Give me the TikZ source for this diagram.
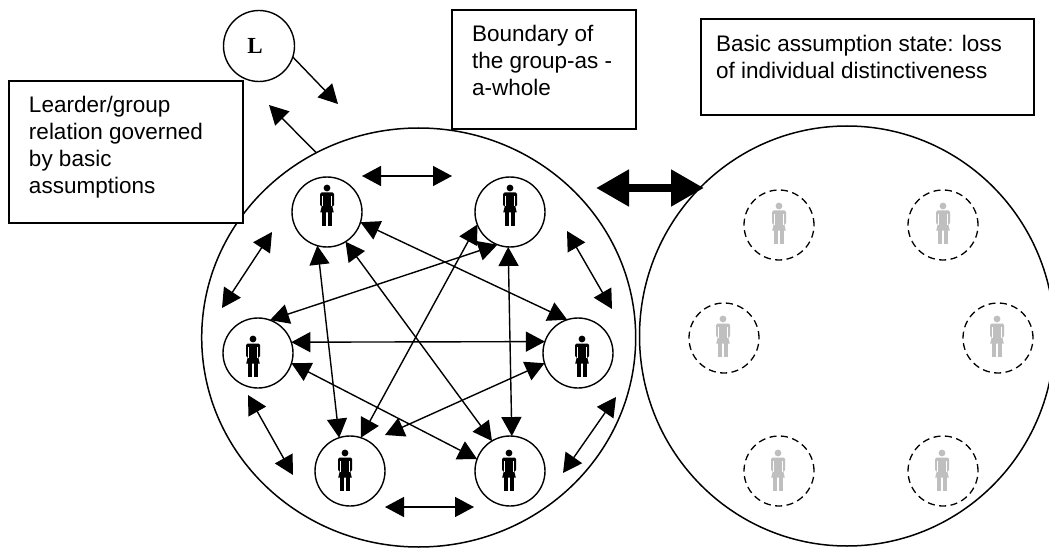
\documentclass[tikz,border=0pt]{standalone}
\usepackage{fontspec}
\setmainfont{Liberation Sans}
\newfontfamily\serifL{Liberation Serif}
\usetikzlibrary{arrows.meta,shapes.geometric}
\tikzset{
  bigring/.style={ellipse,draw,line width=1.5pt,inner sep=0pt,outer sep=0pt,minimum width=#1},
  member/.style={circle,draw,line width=1.4pt,minimum size=70pt,inner sep=0pt,outer sep=0pt},
  faded/.style={circle,draw,line width=1.3pt,dash pattern=on 7pt off 4.5pt,minimum size=70pt,inner sep=0pt,outer sep=0pt},
  notebox/.style={draw,fill=white,line width=1.4pt,inner sep=0pt,outer sep=0pt,anchor=north west,font=\fontsize{22.5}{27}\selectfont},
  link/.style={line width=1.4pt,{Triangle[length=19pt,width=20pt]}-{Triangle[length=19pt,width=20pt]}},
  oneway/.style={line width=1.4pt,-{Triangle[length=19pt,width=20pt]}},
  thicklink/.style={line width=8pt,{Triangle[length=33pt,width=35pt]}-{Triangle[length=33pt,width=35pt]}},
  pics/woman/.style={code={
    \fill[#1] (0,-19) circle (3.4);
    \fill[#1,rounded corners=1.5pt] (-7,-14.5) -- (7,-14.5) -- (7,-0.5) -- (-7,-0.5) -- cycle;
    \fill[#1] (-4.6,-3) -- (4.6,-3) -- (6.8,5.5) -- (-6.8,5.5) -- cycle;
    \fill[#1] (-4.6,5) rectangle (-0.7,19);
    \fill[#1] (0.7,5) rectangle (4.6,19);
    \draw[white,line width=.5pt] (-4.4,-11) -- (-4.4,-0.5) (4.4,-11) -- (4.4,-0.5);
  }}
}
\newcommand{\notetext}[4]{\begin{minipage}[c][#2pt][t]{#1pt}\leftskip=#3pt\rightskip=0pt plus 1fil\parindent=0pt\vspace*{0pt}#4\end{minipage}}
\begin{document}
\begin{tikzpicture}[x=1pt,y=-1pt]
\clip (0,0) rectangle (1049,548);
\fill[white] (0,0) rectangle (1049,548);
% group rings
\node[bigring=434pt,minimum height=419pt] (groupA) at (418.7,337.5) {};
\node[bigring=415pt,minimum height=420pt] (groupB) at (847,336) {};
% members
\node[member] (p1) at (327,212) {};
\node[member] (p2) at (510,212) {};
\node[member] (p3) at (258,353) {};
\node[member] (p4) at (578,353) {};
\node[member] (p5) at (350,471) {};
\node[member] (p6) at (510,471) {};
\pic at ([shift={(0,-5)}]p1) {woman=black};
\pic at ([shift={(0,-5)}]p2) {woman=black};
\pic at ([shift={(-5,5)}]p3) {woman=black};
\pic at ([shift={(4,5)}]p4) {woman=black};
\pic at ([shift={(-5,1)}]p5) {woman=black};
\pic at ([shift={(-1,1)}]p6) {woman=black};
% faded members
\node[faded] (q1) at (779,225) {};
\node[faded] (q2) at (943,225) {};
\node[faded] (q3) at (724,338) {};
\node[faded] (q4) at (998,338) {};
\node[faded] (q5) at (779,471) {};
\node[faded] (q6) at (943,471) {};
\foreach \q/\dx/\dy in {q1/0/0,q2/0/0,q3/-1/0,q4/-1/0,q5/-1/1,q6/-1/1}
  \pic at ([shift={(\dx,\dy)}]\q) {woman={black!25}};
% leader
\node[circle,draw,line width=1.4pt,minimum size=71pt,inner sep=0pt,outer sep=0pt,font=\serifL\bfseries\fontsize{23}{23}\selectfont] (L) at (259,46) {\hspace*{-8pt}L};
% free ends
\coordinate (lIn) at (338,104);
\coordinate (lOut) at (269,105);
\coordinate (iEnd) at (385,435);
\coordinate (t1) at (362,176); \coordinate (t2) at (452,176);
\coordinate (k1) at (272,232); \coordinate (k2) at (222,308);
\coordinate (l1) at (567,231); \coordinate (l2) at (612,309);
\coordinate (m1) at (248,395); \coordinate (m2) at (293,475);
\coordinate (n1) at (616,397); \coordinate (n2) at (563,473);
\coordinate (o1) at (385,507); \coordinate (o2) at (474,507);
\coordinate (b1) at (596,188); \coordinate (b2) at (704,188);
% inner links
\draw[link] (p1.-106) -- (p5.108);
\draw[link] (p1.-58) -- (p6.121);
\draw[link] (p1.-17) -- (p4.108);
\draw[link] (p2.-111) -- (p3.70);
\draw[link] (p2.-159) -- (p5.72);
\draw[link] (p2.-93) -- (p6.87);
\draw[link] (p3.18) -- (p4.161);
\draw[link] (p3.-17) -- (p6.160);
\draw[link] (p4.197) -- (iEnd);
% outer links
\draw[link] (t1) -- (t2);
\draw[link] (k1) -- (k2);
\draw[link] (l1) -- (l2);
\draw[link] (m1) -- (m2);
\draw[link] (n1) -- (n2);
\draw[link] (o1) -- (o2);
\draw[thicklink] (b1) -- (b2);
% leader links
\draw[oneway] (L.-18) -- (lIn);
\draw[oneway] (groupA.119) -- (lOut);
% notes
\node[notebox] (note1) at (9,81) {\notetext{234}{142}{20}{\vspace*{15pt}Learder/group\\relation governed\\by basic\\assumptions}};
\node[notebox] (note2) at (452,10) {\notetext{184}{119}{20}{\vspace*{15pt}Boundary of\\the group-as -\\a-whole}};
\node[notebox] (note3) at (701,19) {\notetext{333}{96}{15}{\vspace*{16pt}Basic assumption state: loss\\of individual distinctiveness}};
\end{tikzpicture}
\end{document}
